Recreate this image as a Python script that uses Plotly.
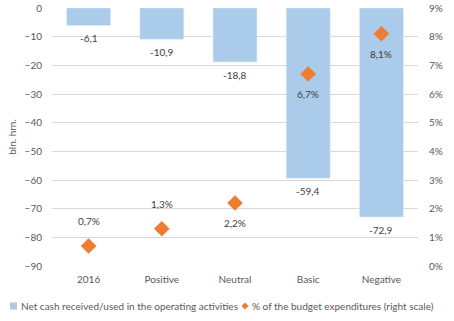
import plotly.graph_objects as go

categories = ["2016", "Positive", "Neutral", "Basic", "Negative"]
net_cash = [-6.1, -10.9, -18.8, -59.4, -72.9]
budget_pct = [0.007, 0.013, 0.022, 0.067, 0.081]
net_cash_labels = ["-6,1", "-10,9", "-18,8", "-59,4", "-72,9"]
pct_labels = ["0,7%", "1,3%", "2,2%", "6,7%", "8,1%"]
pct_label_above = [True, True, False, False, False]
left_ticks = [0, -10, -20, -30, -40, -50, -60, -70, -80, -90]
right_ticks = [0, 0.01, 0.02, 0.03, 0.04, 0.05, 0.06, 0.07, 0.08, 0.09]
bar_name = "Net cash received/used in the operating activities"
pct_name = "% of the budget expenditures (right scale)"

FONT = "Lato"
TICK_COLOR = "#595959"
LABEL_COLOR = "#404040"
BAR_COLOR = "#AACBEA"
PT_COLOR = "#ED7D31"

# plot area geometry (pixels)
L, R, T, B = 52, 36, 8, 55
W, H = 454, 321
PW, PH = W - L - R, H - T - B


def px_x(p):
    return (p - L) / PW


def px_y(p):
    return (H - B - p) / PH


fig = go.Figure()
fig.add_trace(go.Bar(
    x=categories, y=net_cash, name=bar_name,
    marker_color=BAR_COLOR, width=0.6, showlegend=False,
))
fig.add_trace(go.Scatter(
    x=categories, y=budget_pct, yaxis="y2", mode="markers",
    name=pct_name, showlegend=False,
    marker=dict(symbol="diamond", size=12, color=PT_COLOR),
    cliponaxis=False,
))

annotations = []
for i, (v, t) in enumerate(zip(net_cash, net_cash_labels)):
    annotations.append(dict(x=i, y=v, xref="x", yref="y", text=t, showarrow=False,
                            yshift=-13, yanchor="middle",
                            font=dict(family=FONT, size=10, color=LABEL_COLOR)))
for i, (v, t, above) in enumerate(zip(budget_pct, pct_labels, pct_label_above)):
    annotations.append(dict(x=i, y=v, xref="x", yref="y2", text=t, showarrow=False,
                            yshift=25 if above else -20, yanchor="middle",
                            font=dict(family=FONT, size=10, color=LABEL_COLOR)))

# legend drawn manually so it fits on one line
annotations.append(dict(x=px_x(19), y=px_y(306), xref="paper", yref="paper", text=bar_name,
                        showarrow=False, xanchor="left", yanchor="middle",
                        font=dict(family=FONT, size=10, color=TICK_COLOR)))
annotations.append(dict(x=px_x(250), y=px_y(306), xref="paper", yref="paper", text=pct_name,
                        showarrow=False, xanchor="left", yanchor="middle",
                        font=dict(family=FONT, size=10, color=TICK_COLOR)))

shapes = [
    dict(type="rect", xref="paper", yref="paper", x0=px_x(10), x1=px_x(17),
         y0=px_y(309.5), y1=px_y(302.5), fillcolor=BAR_COLOR, line=dict(width=0)),
    dict(type="path", xref="paper", yref="paper",
         path=f"M {px_x(241.5)} {px_y(306)} L {px_x(245)} {px_y(302.5)} "
              f"L {px_x(248.5)} {px_y(306)} L {px_x(245)} {px_y(309.5)} Z",
         fillcolor=PT_COLOR, line=dict(width=0)),
]

fig.update_layout(
    width=W, height=H,
    margin=dict(l=L, r=R, t=T, b=B, autoexpand=False),
    plot_bgcolor="white", paper_bgcolor="white",
    font=dict(family=FONT, size=10, color=TICK_COLOR),
    showlegend=False,
    xaxis=dict(type="category", range=[-0.5, len(categories) - 0.5], showgrid=False,
               showline=False, ticks="outside", ticklen=4,
               tickcolor="white", tickfont=dict(size=10)),
    yaxis=dict(range=[-90, 0], tickvals=left_ticks, showgrid=True, gridcolor="#D9D9D9",
               zeroline=False, showline=False, ticks="outside", ticklen=7, tickcolor="white",
               title=dict(text="bln. hrn.", font=dict(size=10, color=TICK_COLOR), standoff=6)),
    yaxis2=dict(range=[0, 0.09], tickvals=right_ticks, tickformat=".0%", overlaying="y",
                side="right", showgrid=False, zeroline=False, showline=False,
                ticks="outside", ticklen=8, tickcolor="white"),
    annotations=annotations,
    shapes=shapes,
)

fig.write_html("out.html")
